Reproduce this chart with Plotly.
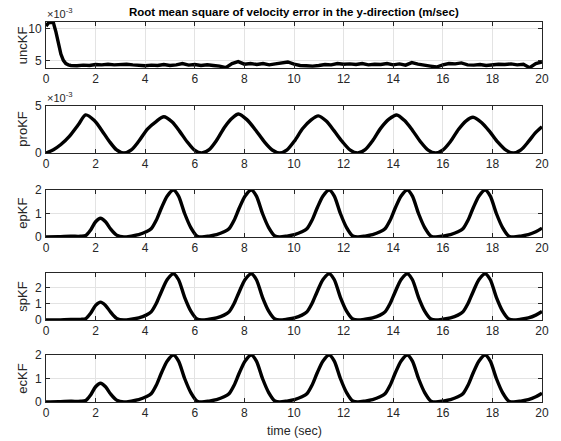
import plotly.graph_objects as go

# ---------------- data ----------------
title_text = "Root mean square of velocity error in the y-direction (m/sec)"
panel_names = ["uncKF", "proKF", "epKF", "spKF", "ecKF"]

# uncKF (x1e-3)
t_unc = [0, 0.1, 0.2, 0.3, 0.4, 0.5, 0.6, 0.7, 0.8, 0.9,
         1.0, 1.25, 1.5, 1.75, 2.0, 2.25, 2.5, 2.75, 3.0, 3.25, 3.5, 3.75,
         4.0, 4.25, 4.5, 4.75, 5.0, 5.25, 5.5, 5.75, 6.0, 6.25, 6.5, 6.75,
         7.0, 7.25, 7.5, 7.75, 8.0, 8.25, 8.5, 8.75, 9.0, 9.25, 9.5, 9.75,
         10.0, 10.25, 10.5, 10.75, 11.0, 11.25, 11.5, 11.75, 12.0, 12.25, 12.5, 12.75,
         13.0, 13.25, 13.5, 13.75, 14.0, 14.25, 14.5, 14.75, 15.0, 15.25, 15.5, 15.75,
         16.0, 16.25, 16.5, 16.75, 17.0, 17.25, 17.5, 17.75, 18.0, 18.25, 18.5, 18.75,
         19.0, 19.25, 19.5, 19.75, 20.0]
unc_e3 = [10.4, 10.9, 11.0, 10.9, 9.5, 7.6, 6.0, 5.0, 4.5, 4.3,
          4.2, 4.15, 4.25, 4.2, 4.35, 4.3, 4.4, 4.3, 4.35, 4.4, 4.3, 4.2,
          4.15, 4.25, 4.2, 4.35, 4.2, 4.3, 4.5, 4.25, 4.35, 4.2, 4.3, 4.2,
          4.1, 3.85, 4.5, 4.8, 4.4, 4.5, 4.35, 4.5, 4.3, 4.45, 4.6, 4.75,
          4.4, 4.2, 4.15, 4.1, 4.2, 4.35, 4.3, 4.5, 4.4, 4.45, 4.35, 4.5,
          4.3, 4.4, 4.35, 4.5, 4.3, 4.45, 4.25, 4.65, 4.4, 4.2, 4.1, 3.95,
          4.3, 4.5, 4.45, 4.6, 4.3, 4.25, 4.35, 4.2, 4.3, 4.4, 4.35, 4.45,
          4.3, 4.4, 3.85, 4.5, 4.75]

# proKF (x1e-3)
t_pro = [0, 0.3, 0.6, 0.95, 1.3, 1.6, 1.95, 2.25, 2.55, 2.85,
         3.14, 3.44, 3.74, 4.09, 4.44, 4.75, 5.09, 5.39, 5.69, 5.99,
         6.28, 6.58, 6.88, 7.2, 7.5, 7.76, 8.1, 8.45, 8.8, 9.12,
         9.42, 9.72, 10.02, 10.35, 10.68, 10.98, 11.3, 11.62, 11.95, 12.27,
         12.57, 12.87, 13.17, 13.5, 13.83, 14.14, 14.46, 14.78, 15.1, 15.41,
         15.71, 16.01, 16.31, 16.63, 16.93, 17.22, 17.56, 17.9, 18.22, 18.55,
         18.85, 19.15, 19.45, 19.75, 20.0]
pro_e3 = [0.0, 0.35, 0.9, 1.8, 3.0, 4.05, 3.45, 2.4, 1.25, 0.32,
          0.0, 0.33, 1.25, 2.55, 3.35, 3.85, 3.3, 2.3, 1.2, 0.3,
          0.0, 0.36, 1.35, 2.75, 3.7, 4.15, 3.55, 2.45, 1.2, 0.32,
          0.0, 0.34, 1.28, 2.6, 3.5, 3.95, 3.4, 2.35, 1.2, 0.3,
          0.0, 0.35, 1.3, 2.65, 3.6, 4.05, 3.45, 2.4, 1.2, 0.3,
          0.0, 0.33, 1.22, 2.5, 3.4, 3.8, 3.25, 2.25, 1.15, 0.3,
          0.0, 0.33, 1.2, 2.2, 2.8]

# shared time base for the estimator panels
t_est = [0, 0.5, 1.0, 1.4, 1.6, 1.8, 2.0, 2.2, 2.4, 2.6, 2.85, 3.14,
         3.44, 3.74, 4.04, 4.24, 4.44, 4.64, 4.89, 5.14, 5.34, 5.59, 5.84, 6.09, 6.28,
         6.58, 6.88, 7.18, 7.38, 7.58, 7.78, 8.03, 8.28, 8.48, 8.73, 8.98, 9.23, 9.42,
         9.72, 10.02, 10.32, 10.52, 10.72, 10.92, 11.17, 11.42, 11.62, 11.87, 12.12, 12.37, 12.57,
         12.87, 13.17, 13.47, 13.67, 13.87, 14.07, 14.32, 14.57, 14.77, 15.02, 15.27, 15.52, 15.71,
         16.01, 16.31, 16.61, 16.81, 17.01, 17.21, 17.46, 17.71, 17.91, 18.16, 18.41, 18.66, 18.85,
         19.15, 19.45, 19.75, 20.0]

ep_vals = [0, 0.01, 0.03, 0.03, 0.06, 0.3, 0.65, 0.8, 0.65, 0.35, 0.08, 0,
           0.04, 0.1, 0.22, 0.35, 0.7, 1.2, 1.75, 2.0, 1.75, 1.0, 0.4, 0.04, 0,
           0.04, 0.1, 0.22, 0.35, 0.7, 1.2, 1.75, 2.0, 1.75, 1.0, 0.4, 0.04, 0,
           0.04, 0.1, 0.22, 0.35, 0.7, 1.2, 1.75, 2.0, 1.75, 1.0, 0.4, 0.04, 0,
           0.04, 0.1, 0.22, 0.35, 0.7, 1.2, 1.75, 2.0, 1.75, 1.0, 0.4, 0.04, 0,
           0.04, 0.1, 0.22, 0.35, 0.7, 1.2, 1.75, 2.0, 1.75, 1.0, 0.4, 0.04, 0,
           0.04, 0.1, 0.22, 0.38]

sp_vals = [0, 0.01, 0.04, 0.04, 0.08, 0.42, 0.9, 1.1, 0.9, 0.5, 0.1, 0,
           0.05, 0.13, 0.3, 0.5, 1.0, 1.7, 2.5, 2.85, 2.5, 1.4, 0.55, 0.06, 0,
           0.05, 0.13, 0.3, 0.5, 1.0, 1.7, 2.5, 2.85, 2.5, 1.4, 0.55, 0.06, 0,
           0.05, 0.13, 0.3, 0.5, 1.0, 1.7, 2.5, 2.85, 2.5, 1.4, 0.55, 0.06, 0,
           0.05, 0.13, 0.3, 0.5, 1.0, 1.7, 2.5, 2.85, 2.5, 1.4, 0.55, 0.06, 0,
           0.05, 0.13, 0.3, 0.5, 1.0, 1.7, 2.5, 2.85, 2.5, 1.4, 0.55, 0.06, 0,
           0.05, 0.13, 0.3, 0.52]

ec_vals = [0, 0.01, 0.03, 0.03, 0.06, 0.3, 0.65, 0.8, 0.65, 0.35, 0.08, 0,
           0.04, 0.1, 0.22, 0.35, 0.7, 1.2, 1.75, 2.0, 1.75, 1.0, 0.4, 0.04, 0,
           0.04, 0.1, 0.22, 0.35, 0.7, 1.2, 1.75, 2.0, 1.75, 1.0, 0.4, 0.04, 0,
           0.04, 0.1, 0.22, 0.35, 0.7, 1.2, 1.75, 2.0, 1.75, 1.0, 0.4, 0.04, 0,
           0.04, 0.1, 0.22, 0.35, 0.7, 1.2, 1.75, 2.0, 1.75, 1.0, 0.4, 0.04, 0,
           0.04, 0.1, 0.22, 0.35, 0.7, 1.2, 1.75, 2.0, 1.75, 1.0, 0.4, 0.04, 0,
           0.04, 0.1, 0.22, 0.37]

x_ticks = [0, 2, 4, 6, 8, 10, 12, 14, 16, 18, 20]
y_ticks = [[5, 10], [0, 5], [0, 1, 2], [0, 1, 2], [0, 1, 2]]
y_ranges = [[3.8, 11.05], [0, 5], [0, 2], [0, 2.9], [0, 2]]

# ---------------- figure ----------------
W, H = 561, 441
L, R, T, B = 46, 16, 22, 39
plot_h = H - T - B
panel_px = [(22, 68), (106, 153), (190, 237), (273, 320), (355, 402)]

series = [(t_unc, unc_e3, "linear"), (t_pro, pro_e3, "spline"),
          (t_est, ep_vals, "spline"), (t_est, sp_vals, "spline"), (t_est, ec_vals, "spline")]

fig = go.Figure()
axis_color = "#262626"
grid_color = "#e3e3e3"
font_fam = "Liberation Sans, Arial, sans-serif"

layout = dict(
    width=W, height=H, margin=dict(l=L, r=R, t=T, b=B),
    paper_bgcolor="white", plot_bgcolor="white", showlegend=False,
    font=dict(family=font_fam, size=12, color=axis_color),
)
annotations = []
for i, (tx, ty, shape) in enumerate(series):
    n = i + 1
    xa = "x" if n == 1 else f"x{n}"
    ya = "y" if n == 1 else f"y{n}"
    fig.add_trace(go.Scatter(x=tx, y=ty, mode="lines", xaxis=xa, yaxis=ya,
                             line=dict(color="black", width=3.4, shape=shape, smoothing=0.8)))
    top, bot = panel_px[i]
    d0 = (H - B - bot) / plot_h
    d1 = (H - B - top) / plot_h
    common = dict(showline=True, linecolor=axis_color, linewidth=1, mirror="ticks",
                  ticks="inside", ticklen=4, tickcolor=axis_color,
                  showgrid=True, gridcolor=grid_color, gridwidth=1, zeroline=False,
                  tickfont=dict(size=12, color=axis_color, family=font_fam))
    layout["xaxis" if n == 1 else f"xaxis{n}"] = dict(
        common, domain=[0, 1], range=[0, 20], tickvals=x_ticks, anchor=ya)
    layout["yaxis" if n == 1 else f"yaxis{n}"] = dict(
        common, domain=[d0, d1], range=y_ranges[i], tickvals=y_ticks[i], anchor=xa,
        ticklabelstandoff=1)
    annotations.append(dict(text=panel_names[i], xref="paper", yref="paper",
                            x=-(L - 22) / (W - L - R), y=(d0 + d1) / 2, textangle=-90,
                            showarrow=False, xanchor="center", yanchor="middle",
                            font=dict(size=13, color=axis_color, family=font_fam)))
    if i < 2:
        annotations.append(dict(text="\u00d710<sup>-3</sup>", xref="paper", yref="paper",
                                x=-0.002, y=d1, xanchor="left", yanchor="bottom",
                                showarrow=False,
                                font=dict(size=11, color=axis_color, family=font_fam)))

annotations.append(dict(text="<b>" + title_text + "</b>", xref="paper", yref="paper",
                        x=0.5, y=1.0, yshift=2, xanchor="center", yanchor="bottom", showarrow=False,
                        font=dict(size=11.5, color="black", family=font_fam)))
annotations.append(dict(text="time (sec)", xref="paper", yref="paper",
                        x=0.5, y=0, yshift=-20, xanchor="center", yanchor="top", showarrow=False,
                        font=dict(size=12.5, color=axis_color, family=font_fam)))
layout["annotations"] = annotations
fig.update_layout(**layout)
fig.write_html("out.html")
